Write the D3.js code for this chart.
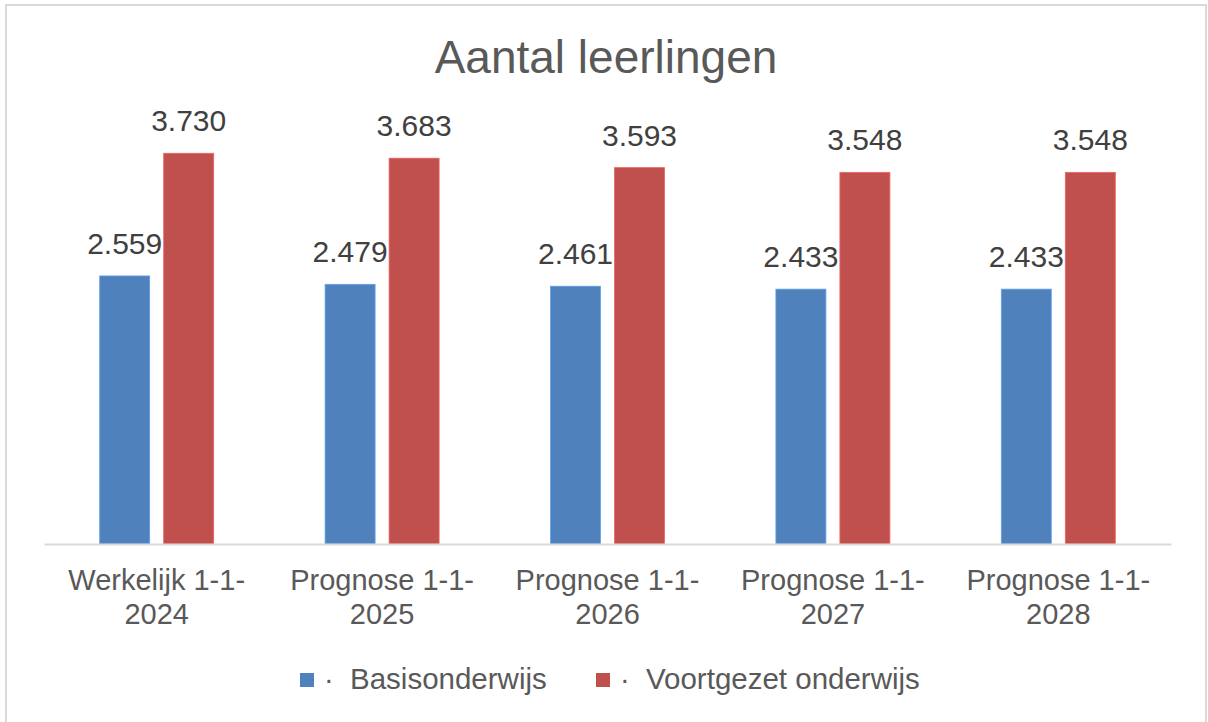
<!DOCTYPE html>
<html>
<head>
<meta charset="utf-8">
<script src="https://cdn.jsdelivr.net/npm/d3@7"></script>
<style>
  body { margin: 0; background: #fff; }
  svg { display: block; font-family: "Liberation Sans", Arial, sans-serif; }
</style>
</head>
<body>
<script>
var width = 1208;
var height = 722;

// data
var categories = ["Werkelijk 1-1-2024", "Prognose 1-1-2025", "Prognose 1-1-2026", "Prognose 1-1-2027", "Prognose 1-1-2028"];
var catLines = [["Werkelijk 1-1-", "2024"], ["Prognose 1-1-", "2025"], ["Prognose 1-1-", "2026"], ["Prognose 1-1-", "2027"], ["Prognose 1-1-", "2028"]];
var seriesNames = ["Basisonderwijs", "Voortgezet onderwijs"];
var basis = [2559, 2479, 2461, 2433, 2433];
var voortgezet = [3730, 3683, 3593, 3548, 3548];
var colors = ["#4F81BD", "#C0504D"];

var fmt = d3.format(",d");
function nl(v) { return fmt(v).replace(/,/g, "."); }

var svg = d3.select("body").append("svg")
    .attr("width", width)
    .attr("height", height);

// outer border
svg.append("rect")
    .attr("x", 6).attr("y", 5)
    .attr("width", 1200).attr("height", 720)
    .attr("fill", "#fff")
    .attr("stroke", "#d9d9d9")
    .attr("stroke-width", 2);

svg.append("text")
    .attr("x", 606)
    .attr("y", 73)
    .attr("text-anchor", "middle")
    .attr("font-size", 46)
    .attr("fill", "#595959")
    .text("Aantal leerlingen");

var x0 = d3.scaleBand()
    .domain(categories)
    .range([44, 1171]);

var x1 = d3.scaleBand()
    .domain(seriesNames)
    .range([0, 114])
    .paddingInner(14 / 64);

var y = d3.scaleLinear()
    .domain([0, 4000])
    .range([544, 125]);

var rows = categories.map(function(c, i) {
    return { cat: c, values: [basis[i], voortgezet[i]] };
});

var groups = svg.selectAll(".group")
    .data(rows)
    .enter().append("g")
    .attr("class", "group")
    .attr("transform", function(d) {
        return "translate(" + (x0(d.cat) + x0.bandwidth() / 2 - 57) + ",0)";
    });

groups.selectAll("rect")
    .data(function(d) {
        return d.values.map(function(v, j) { return { s: seriesNames[j], v: v, j: j }; });
    })
    .enter().append("rect")
    .attr("x", function(d) { return x1(d.s); })
    .attr("y", function(d) { return y(d.v); })
    .attr("width", x1.bandwidth())
    .attr("height", function(d) { return y(0) - y(d.v); })
    .attr("fill", function(d) { return colors[d.j]; })
    .attr("stroke", function(d) { return d3.color(colors[d.j]).brighter(0.6); })
    .attr("stroke-width", 0.8);

groups.selectAll("text")
    .data(function(d) {
        return d.values.map(function(v, j) { return { s: seriesNames[j], v: v }; });
    })
    .enter().append("text")
    .attr("x", function(d) { return x1(d.s) + x1.bandwidth() / 2; })
    .attr("y", function(d) { return y(d.v) - 22; })
    .attr("text-anchor", "middle")
    .attr("font-size", 30)
    .attr("fill", "#404040")
    .text(function(d) { return nl(d.v); });

// x axis
var xAxis = svg.append("g")
    .attr("transform", "translate(0," + y(0) + ")")
    .call(d3.axisBottom(x0).tickSize(0).tickFormat(""));
xAxis.select(".domain").attr("stroke", "#d9d9d9").attr("stroke-width", 2);

xAxis.selectAll(".tick").each(function(d, i) {
    var t = d3.select(this).append("text")
        .attr("fill", "#595959")
        .attr("font-size", 29)
        .attr("text-anchor", "middle");
    catLines[i].forEach(function(line, k) {
        t.append("tspan")
            .attr("x", 0)
            .attr("y", 46 + k * 34)
            .text(line);
    });
});

// legend
var legendX = [300, 596];
var legend = svg.selectAll(".legend")
    .data(seriesNames)
    .enter().append("g")
    .attr("class", "legend")
    .attr("transform", function(d, i) { return "translate(" + legendX[i] + ",673)"; });

legend.append("rect")
    .attr("width", 14).attr("height", 14)
    .attr("fill", function(d, i) { return colors[i]; });

legend.append("text")
    .attr("x", 24).attr("y", 16)
    .attr("font-size", 29)
    .attr("fill", "#595959")
    .text("·");

legend.append("text")
    .attr("x", 50).attr("y", 16)
    .attr("font-size", 29.5)
    .attr("fill", "#595959")
    .text(function(d) { return d; });
</script>
</body>
</html>
